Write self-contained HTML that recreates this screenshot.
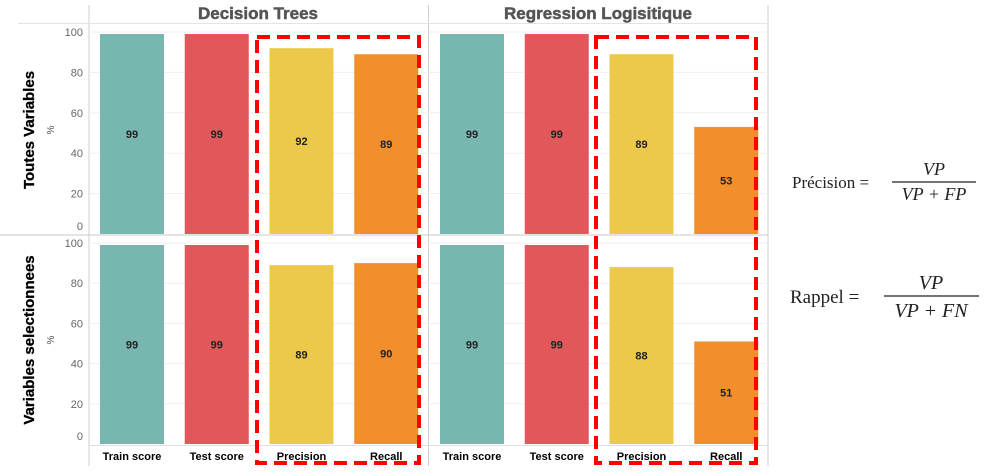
<!DOCTYPE html>
<html><head><meta charset="utf-8"><style>
body{margin:0;background:#fff;}
svg{display:block;font-family:"Liberation Sans",sans-serif;}
</style></head><body>
<svg id="chart" width="989" height="475" viewBox="0 0 989 475" xmlns="http://www.w3.org/2000/svg">
<g id="frame">
  <line x1="89" y1="5" x2="89" y2="466" stroke="#cfcfcf"/>
  <line x1="428.5" y1="5" x2="428.5" y2="466" stroke="#cfcfcf"/>
  <line x1="768" y1="5" x2="768" y2="466" stroke="#cfcfcf"/>
  <line x1="18" y1="23.5" x2="768" y2="23.5" stroke="#e4e4e4"/>
  <line x1="0" y1="235" x2="768" y2="235" stroke="#c8c8c8"/>
  <line x1="89" y1="445.5" x2="768" y2="445.5" stroke="#e0e0e0"/>
</g>
<text x="258" y="19" text-anchor="middle" font-size="17" font-weight="bold" fill="#555" stroke="#555" stroke-width="0.5">Decision Trees</text>
<text x="598" y="19" text-anchor="middle" font-size="17" font-weight="bold" fill="#555" stroke="#555" stroke-width="0.5">Regression Logisitique</text>
<text transform="translate(34,130) rotate(-90)" text-anchor="middle" font-size="15" font-weight="bold" fill="#000" stroke="#000" stroke-width="0.3">Toutes Variables</text>
<text transform="translate(54,130) rotate(-90)" text-anchor="middle" font-size="10" fill="#555">%</text>
<text transform="translate(34,340) rotate(-90)" text-anchor="middle" font-size="15" font-weight="bold" fill="#000" stroke="#000" stroke-width="0.3">Variables selectionnees</text>
<text transform="translate(54,340) rotate(-90)" text-anchor="middle" font-size="10" fill="#555">%</text>
<g id="plots"></g>
<g font-family="Liberation Serif,serif" fill="#222">
  <text x="792" y="188" font-size="17">Précision =</text>
  <text x="934" y="175" font-size="18" font-style="italic" text-anchor="middle">VP</text>
  <line x1="892" y1="182" x2="976" y2="182" stroke="#222" stroke-width="1.2"/>
  <text x="934" y="200" font-size="18" font-style="italic" text-anchor="middle">VP + FP</text>
  <text x="790" y="303" font-size="19">Rappel =</text>
  <text x="931" y="289" font-size="20" font-style="italic" text-anchor="middle">VP</text>
  <line x1="884" y1="296" x2="979" y2="296" stroke="#222" stroke-width="1.2"/>
  <text x="931" y="317" font-size="20" font-style="italic" text-anchor="middle">VP + FN</text>
</g>
</svg>
<script>
const categories = ["Train score","Test score","Precision","Recall"];
const dtAll = [99,99,92,89];
const lrAll = [99,99,89,53];
const dtSel = [99,99,89,90];
const lrSel = [99,99,88,51];
const yTicks = [0,20,40,60,80,100];
const colors = ["#78b6b0","#e1575a","#ecc94b","#f28e2c"];
const NS="http://www.w3.org/2000/svg";
const g=document.getElementById('plots');
function el(t,a,p){const e=document.createElementNS(NS,t);for(const k in a)e.setAttribute(k,a[k]);(p||g).appendChild(e);return e;}
const panels=[{x0:89,x1:428},{x0:429,x1:768}];
const rows=[{top:32,base:234,data:[dtAll,lrAll]},{top:243,base:444,data:[dtSel,lrSel]}];
function yScale(r,v){return r.base-(r.base-r.top)*v/100;}
rows.forEach((r,ri)=>{
  yTicks.forEach(t=>{
    const y=yScale(r,t);
    if(t>0){
      const gl=el('line',{x1:89,x2:768,y1:y,y2:y,stroke:'#efefef'});
      
      
    }
    const tl=el('text',{x:83,y:(t===0?y-4:y+4),'text-anchor':'end','font-size':11,fill:'#666'});
    tl.textContent=t;
    
    
  });
  panels.forEach((p,pi)=>{
    const vals=r.data[pi];
    const bw=(p.x1-p.x0)/categories.length;
    vals.forEach((v,i)=>{
      const x=p.x0+bw*i+11;
      const y=yScale(r,v);
      const b=el('rect',{x:x,y:y,width:64,height:r.base-y,fill:colors[i]});
      
      
      const lb=el('text',{x:x+32,y:(y+r.base)/2+4,'text-anchor':'middle','font-size':11,'font-weight':'bold',fill:'#222'});
      lb.textContent=v;
      
      
      if(ri===1){
        const cl=el('text',{x:x+32,y:460,'text-anchor':'middle','font-size':11,'font-weight':'bold',fill:'#000'});
        cl.textContent=categories[i];
        
        
      }
    });
  });
});
[[257,419],[596,756]].forEach(([a,b])=>{
  const r=el('rect',{x:a,y:37,width:b-a,height:426,fill:'none',stroke:'#f00','stroke-width':4,'stroke-dasharray':'13,7'});
  
  
});
</script>
</body></html>
